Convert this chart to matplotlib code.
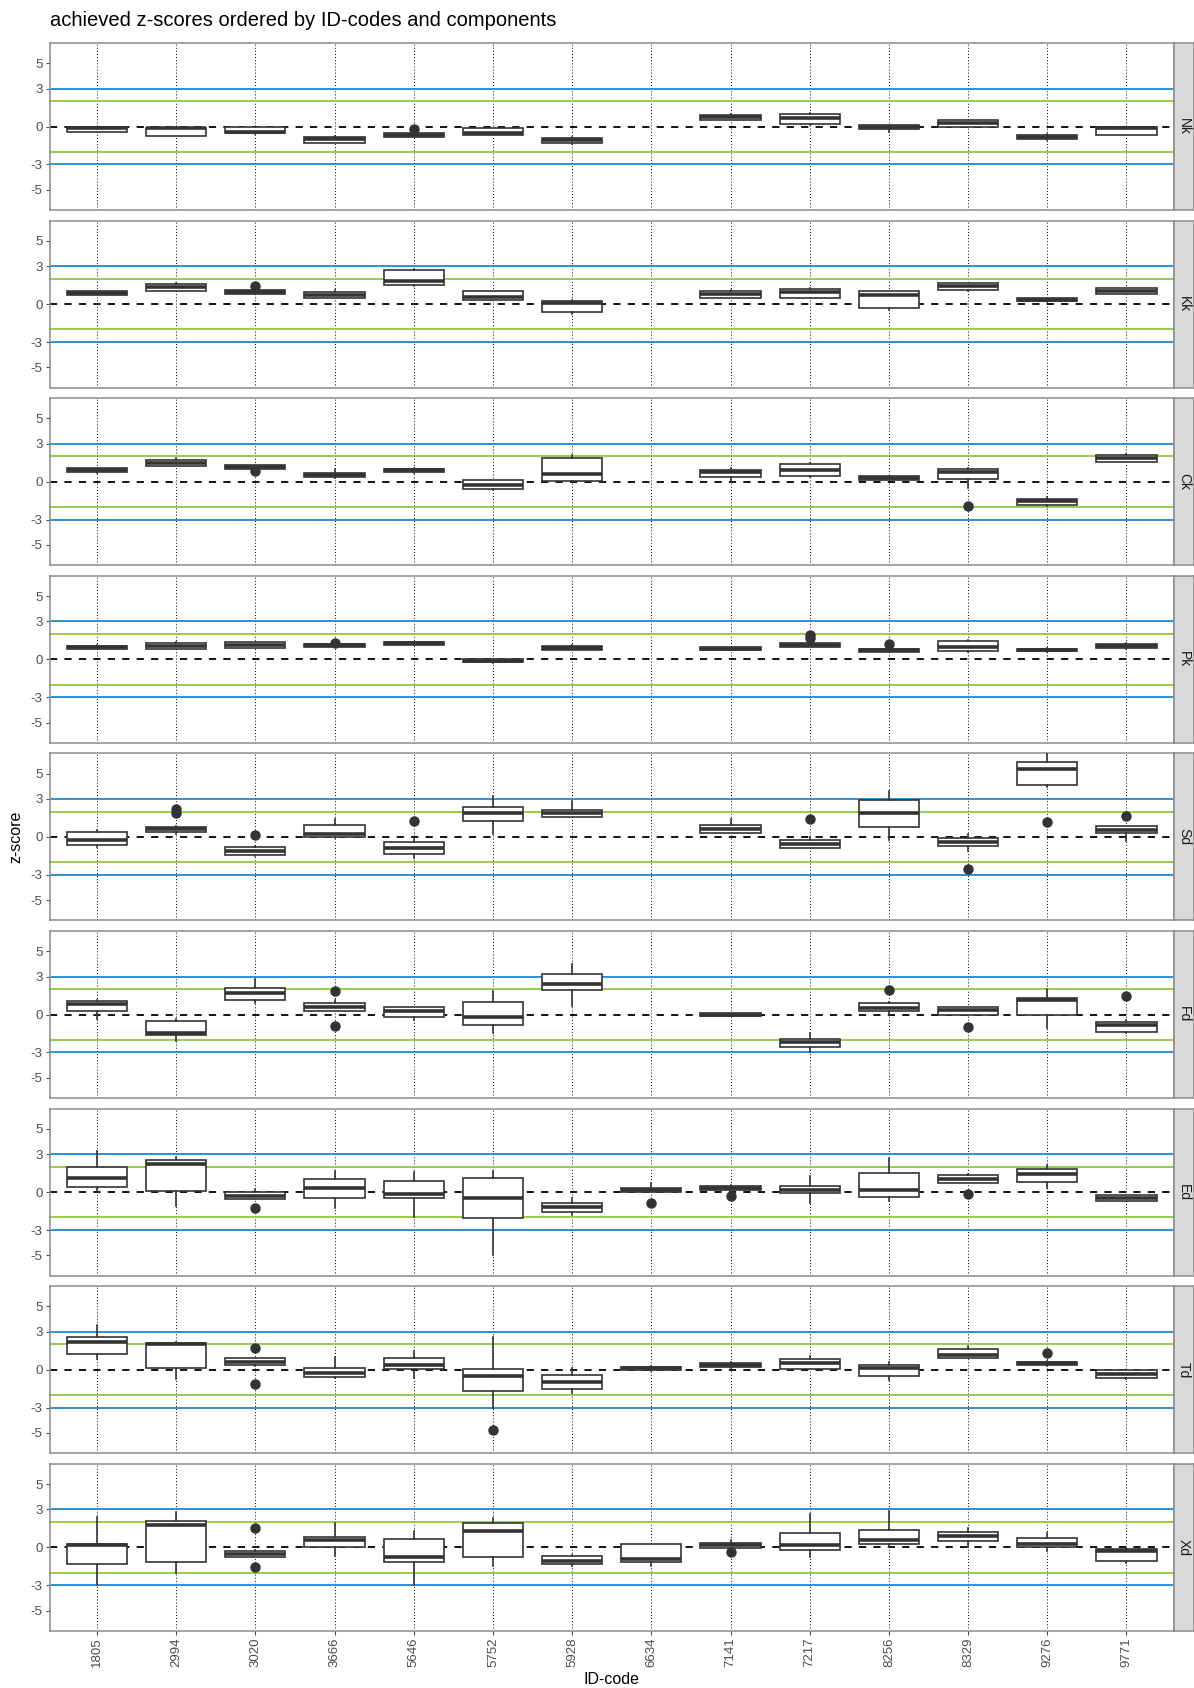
import matplotlib
matplotlib.use("Agg")
import matplotlib.pyplot as plt

plt.rcParams['font.family'] = ['Liberation Sans', 'DejaVu Sans']

ids = ['1805', '2994', '3020', '3666', '5646', '5752', '5928', '6634',
       '7141', '7217', '8256', '8329', '9276', '9771']
components = ['Nk', 'Kk', 'Ck', 'Pk', 'Sd', 'Fd', 'Ed', 'Td', 'Xd']

# (lower whisker, q1, median, q3, upper whisker) per ID; None = no data
nk = [(-0.45, -0.42, -0.15, -0.03, 0.0), (-0.75, -0.73, -0.15, -0.08, 0.0),
      (-0.6, -0.55, -0.4, -0.05, 0.0), (-1.3, -1.28, -1.0, -0.8, -0.75),
      (-0.85, -0.8, -0.65, -0.55, -0.4), (-0.7, -0.65, -0.5, -0.13, -0.1),
      (-1.35, -1.33, -1.1, -0.9, -0.85), None,
      (0.5, 0.55, 0.75, 0.94, 1.0), (0.1, 0.18, 0.65, 0.97, 1.05),
      (-0.4, -0.18, -0.05, 0.1, 0.15), (0.0, 0.0, 0.25, 0.5, 0.55),
      (-1.05, -1.0, -0.8, -0.65, -0.6), (-0.7, -0.65, -0.1, -0.03, 0.0)]
nk_out = {'5646': [-0.2]}

kk = [(0.7, 0.73, 0.85, 1.01, 1.05), (1.0, 1.01, 1.35, 1.58, 1.65),
      (0.8, 0.83, 0.95, 1.12, 1.15), (0.5, 0.52, 0.7, 0.96, 1.15),
      (1.45, 1.48, 1.8, 2.68, 2.75), (0.3, 0.3, 0.6, 1.0, 1.05),
      (-0.8, -0.62, 0.1, 0.23, 0.3), None,
      (0.5, 0.52, 0.8, 1.0, 1.1), (0.5, 0.52, 0.95, 1.22, 1.3),
      (-0.45, -0.3, 0.75, 1.0, 1.05), (1.05, 1.09, 1.4, 1.66, 1.7),
      (0.2, 0.23, 0.35, 0.49, 0.5), (0.8, 0.83, 1.05, 1.25, 1.3)]
kk_out = {'3020': [1.45]}

ck = [(0.7, 0.73, 0.9, 1.1, 1.12), (1.25, 1.28, 1.5, 1.7, 1.88),
      (1.0, 1.04, 1.15, 1.31, 1.35), (0.3, 0.34, 0.5, 0.7, 0.97),
      (0.7, 0.73, 0.9, 1.02, 1.05), (-0.65, -0.6, -0.25, 0.1, 0.12),
      (0.0, 0.05, 0.6, 1.88, 2.14), None,
      (0.05, 0.37, 0.75, 0.91, 1.05), (0.4, 0.42, 0.95, 1.41, 1.45),
      (0.1, 0.1, 0.3, 0.42, 0.45), (-0.47, 0.24, 0.8, 0.97, 1.05),
      (-1.9, -1.85, -1.55, -1.33, -1.2), (1.55, 1.57, 1.85, 2.09, 2.15)]
ck_out = {'3020': [0.85], '8329': [-1.9]}

pk = [(0.8, 0.85, 0.95, 1.05, 1.1), (0.8, 0.85, 1.05, 1.3, 1.35),
      (0.9, 0.9, 1.1, 1.35, 1.4), (0.95, 1.0, 1.1, 1.2, 1.2),
      (1.1, 1.15, 1.25, 1.35, 1.4), (-0.3, -0.25, -0.1, 0.0, 0.05),
      (0.7, 0.75, 0.9, 1.05, 1.1), None,
      (0.7, 0.75, 0.85, 0.95, 1.0), (0.95, 1.0, 1.1, 1.25, 1.3),
      (0.55, 0.6, 0.7, 0.85, 0.9), (0.6, 0.65, 1.0, 1.45, 1.5),
      (0.6, 0.65, 0.75, 0.85, 0.9), (0.85, 0.9, 1.05, 1.2, 1.25)]
pk_out = {'3666': [1.3], '7217': [1.7, 1.9], '8256': [1.2]}

sd = [(-0.8, -0.62, -0.23, 0.36, 0.55), (0.23, 0.42, 0.6, 0.8, 0.9),
      (-1.5, -1.45, -1.1, -0.8, -0.75), (-0.05, -0.03, 0.2, 0.93, 1.4),
      (-1.65, -1.35, -0.85, -0.42, -0.15), (0.23, 1.27, 1.85, 2.39, 3.22),
      (1.55, 1.58, 1.85, 2.1, 2.83), None,
      (0.3, 0.31, 0.6, 0.93, 1.4), (-0.9, -0.86, -0.55, -0.26, 0.0),
      (-0.25, 0.75, 1.85, 2.9, 3.6), (-1.15, -0.75, -0.4, -0.05, 0.23),
      (3.92, 4.1, 5.35, 5.9, 6.8), (-0.3, 0.31, 0.55, 0.85, 0.9)]
sd_out = {'2994': [1.9, 2.2], '3020': [0.15], '5646': [1.25], '7217': [1.38],
          '8329': [-2.57], '9276': [1.15], '9771': [1.65]}

fd = [(-0.35, 0.29, 0.8, 1.1, 1.15), (-2.1, -1.65, -1.45, -0.52, -0.35),
      (0.9, 1.12, 1.7, 2.1, 2.8), (0.3, 0.31, 0.6, 0.9, 1.15),
      (-0.42, -0.23, 0.3, 0.57, 0.6), (-1.5, -0.8, -0.2, 1.02, 1.88),
      (0.65, 1.93, 2.45, 3.23, 3.97), None,
      (-0.15, -0.13, 0.0, 0.1, 0.12), (-2.95, -2.58, -2.2, -1.96, -1.5),
      (0.0, 0.29, 0.5, 0.94, 1.0), (-0.05, 0.0, 0.35, 0.57, 0.6),
      (-1.1, 0.0, 1.15, 1.3, 2.0), (-1.5, -1.38, -0.8, -0.63, -0.4)]
fd_out = {'3666': [1.88, -0.9], '8256': [1.9], '8329': [-1.0], '9771': [1.5]}

ed = [(0.0, 0.42, 1.1, 1.95, 3.25), (-1.1, 0.1, 2.2, 2.57, 2.75),
      (-0.55, -0.52, -0.3, 0.0, 0.26), (-1.22, -0.49, 0.3, 1.06, 1.7),
      (-2.0, -0.49, -0.15, 0.86, 1.6), (-4.98, -2.03, -0.5, 1.09, 1.7),
      (-1.8, -1.6, -1.15, -0.83, -0.5), (0.0, 0.03, 0.2, 0.34, 0.73),
      (0.1, 0.13, 0.35, 0.5, 0.55), (-0.83, -0.1, 0.2, 0.52, 1.25),
      (-0.7, -0.36, 0.2, 1.53, 2.73), (0.7, 0.73, 1.0, 1.38, 1.4),
      (0.34, 0.8, 1.4, 1.82, 2.15), (-0.7, -0.68, -0.45, -0.23, -0.2)]
ed_out = {'3020': [-1.22], '6634': [-0.9], '7141': [-0.34], '8329': [-0.15]}

td = [(0.85, 1.27, 2.2, 2.55, 3.55), (-0.7, 0.17, 2.0, 2.1, 2.15),
      (0.3, 0.34, 0.6, 0.93, 0.95), (-0.65, -0.6, -0.25, 0.17, 1.0),
      (-0.65, 0.08, 0.4, 0.95, 1.45), (-3.0, -1.7, -0.5, 0.08, 2.6),
      (-1.85, -1.5, -1.0, -0.45, 0.17), (-0.1, -0.05, 0.1, 0.25, 0.3),
      (0.15, 0.2, 0.4, 0.55, 0.6), (0.05, 0.08, 0.5, 0.85, 1.1),
      (-0.85, -0.5, 0.15, 0.4, 0.6), (0.9, 0.95, 1.2, 1.6, 1.85),
      (0.3, 0.35, 0.5, 0.6, 0.65), (-0.7, -0.65, -0.35, -0.05, 0.0)]
td_out = {'3020': [1.7, -1.1], '5752': [-4.8], '9276': [1.35]}

xd = [(-3.0, -1.35, 0.15, 0.3, 2.4), (-2.0, -1.2, 1.8, 2.1, 2.8),
      (-0.8, -0.75, -0.5, -0.3, -0.25), (-0.7, 0.0, 0.55, 0.85, 1.95),
      (-3.0, -1.15, -0.75, 0.65, 1.3), (-1.5, -0.75, 1.25, 1.95, 2.3),
      (-1.5, -1.3, -1.05, -0.65, -0.6), (-1.5, -1.15, -0.9, 0.25, 0.3),
      (-0.05, -0.05, 0.2, 0.35, 0.55), (-0.75, -0.25, 0.2, 1.1, 2.6),
      (0.0, 0.25, 0.6, 1.4, 2.9), (0.0, 0.5, 0.9, 1.2, 1.5),
      (-0.3, 0.0, 0.3, 0.7, 1.15), (-1.25, -1.1, -0.3, -0.1, -0.05)]
xd_out = {'3020': [1.55, -1.55], '7141': [-0.4]}

panel_stats = [nk, kk, ck, pk, sd, fd, ed, td, xd]
panel_out = [nk_out, kk_out, ck_out, pk_out, sd_out, fd_out, ed_out, td_out, xd_out]
yticks = [-5, -3, 0, 3, 5]

W, H = 1194, 1688
fig = plt.figure(figsize=(W / 100, H / 100), dpi=100)

left, right = 49.5, 1174.0
top0, pitch, ph = 43.0, 177.6, 167.0
strip_w = 20.0
dark = '#333333'
border = '#8c8c8c'

for i, (comp, stats, outs) in enumerate(zip(components, panel_stats, panel_out)):
    top = top0 + i * pitch
    ax = fig.add_axes([left / W, 1 - (top + ph) / H, (right - left) / W, ph / H])
    ax.set_xlim(0.4, len(ids) + 0.6)
    ax.set_ylim(-6.6, 6.6)
    for x in range(1, len(ids) + 1):
        ax.axvline(x, color='black', lw=0.7, ls=(0, (1, 2.2)), zorder=0.5)
    ax.axhline(3, color='#1f86cf', lw=1.3, zorder=1)
    ax.axhline(-3, color='#1f86cf', lw=1.3, zorder=1)
    ax.axhline(2, color='#92c83e', lw=1.3, zorder=1)
    ax.axhline(-2, color='#92c83e', lw=1.3, zorder=1)
    ax.axhline(0, color='black', lw=1.3, ls=(0, (4, 4)), zorder=1)

    bstats, pos = [], []
    for j, (idc, s) in enumerate(zip(ids, stats)):
        if s is None:
            continue
        lo, q1, med, q3, hi = s
        bstats.append(dict(whislo=lo, q1=q1, med=med, q3=q3, whishi=hi,
                           fliers=outs.get(idc, []), label=idc))
        pos.append(j + 1)
    ax.bxp(bstats, positions=pos, widths=0.76, patch_artist=True, showcaps=False,
           boxprops=dict(facecolor='white', edgecolor=dark, linewidth=1.2),
           whiskerprops=dict(color=dark, linewidth=1.2),
           medianprops=dict(color=dark, linewidth=2.6, solid_capstyle='butt'),
           flierprops=dict(marker='o', markerfacecolor=dark, markeredgecolor=dark,
                           markersize=6.5),
           manage_ticks=False, zorder=3)

    ax.set_yticks(yticks)
    ax.set_yticklabels([str(v) for v in yticks])
    ax.tick_params(axis='y', length=3, width=0.8, color='#4d4d4d',
                   labelcolor='#4d4d4d', labelsize=9.5, pad=2)
    ax.set_xticks(range(1, len(ids) + 1))
    if i == len(components) - 1:
        ax.set_xticklabels(ids, rotation=90)
        ax.tick_params(axis='x', length=3, width=0.8, color='#4d4d4d',
                       labelcolor='#4d4d4d', labelsize=9.5, pad=2)
    else:
        ax.tick_params(axis='x', length=0, labelbottom=False)
    for sp in ax.spines.values():
        sp.set_color(border)
        sp.set_linewidth(1.1)

    # strip on the right
    sax = fig.add_axes([right / W, 1 - (top + ph) / H, strip_w / W, ph / H])
    sax.set_xlim(0, 1)
    sax.set_ylim(0, 1)
    sax.set_facecolor('#d9d9d9')
    sax.set_xticks([])
    sax.set_yticks([])
    for sp in sax.spines.values():
        sp.set_color(border)
        sp.set_linewidth(1.1)
    sax.text(0.5, 0.5, comp, rotation=-90, ha='center', va='center',
             fontsize=10, color='#1a1a1a')

fig.text(left / W, 1 - 21 / H, 'achieved z-scores ordered by ID-codes and components',
         ha='left', va='center', fontsize=14.5, color='black')
fig.text(16 / W, 1 - 837 / H, 'z-score', rotation=90, ha='center', va='center',
         fontsize=11.5, color='black')
fig.text((left + right) / 2 / W, 1 - 1679 / H, 'ID-code', ha='center', va='center',
         fontsize=11.5, color='black')

fig.savefig('out.png', dpi=100, facecolor='white')
